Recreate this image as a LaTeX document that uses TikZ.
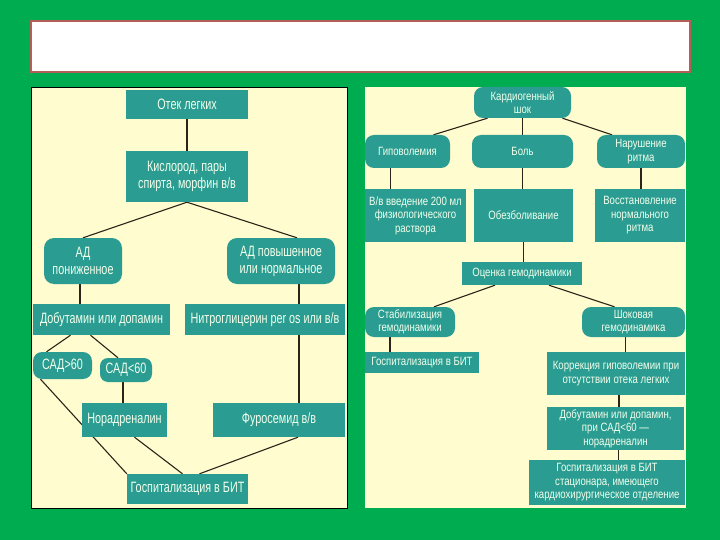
\documentclass[tikz,border=0pt]{standalone}
\usepackage{fontspec}
\setmainfont{Liberation Sans}[FakeStretch=0.8]
\newfontfamily\leftfont{Liberation Sans}[FakeStretch=0.72]
\usepackage{tikz}
\usetikzlibrary{backgrounds}

\definecolor{slidegreen}{RGB}{0,172,80}
\definecolor{panelcream}{RGB}{255,252,208}
\definecolor{boxteal}{RGB}{42,156,146}
\definecolor{boxtext}{RGB}{242,255,235}
\definecolor{titleedge}{RGB}{180,95,85}
\definecolor{linkdark}{RGB}{45,35,25}

\begin{document}
\begin{tikzpicture}[
                x=1pt, y=-1pt,
                sz/.style 2 args={minimum width=#1pt, minimum height=#2pt},
                box/.style={fill=boxteal, text=boxtext, inner sep=0pt, align=center,
                            font=\leftfont\fontsize{15}{17}\selectfont},
                rbox/.style={box, rounded corners=10pt},
                sbox/.style={box, font=\normalfont\fontsize{12}{13.5}\selectfont},
                srbox/.style={sbox, rounded corners=9pt},
                link/.style={draw=linkdark, line width=1.1pt}
                ]

                % фон слайда и панели
                \begin{scope}[on background layer]
                    \fill[slidegreen] (0,0) rectangle (720,540);
                    \draw[fill=white, draw=titleedge, line width=1.5pt] (31,21) rectangle (690,72);
                    \draw[fill=panelcream, draw=black, line width=0.8pt] (31,87) rectangle (347,508);
                    \fill[panelcream] (365,87) rectangle (686,508);
                \end{scope}

                % отек легких (левая схема)
                \node[box, sz={122}{29}] (otek) at (187,104.5) {Отек легких};
                \node[box, sz={122}{51}] (kisl) at (187,176.5) {Кислород, пары\\спирта, морфин в/в};
                \node[rbox, sz={78}{46}] (adlow) at (83,261) {АД\\пониженное};
                \node[rbox, sz={108}{46}] (adhigh) at (281,261) {АД повышенное\\или нормальное};
                \node[box, sz={137}{31}] (dobut) at (101.5,319.5) {Добутамин или допамин};
                \node[box, sz={160}{31}] (nitro) at (265,319.5) {Нитроглицерин per os или в/в};
                \node[rbox, sz={59}{27}, rounded corners=9pt] (sadhi) at (62.5,365.5) {САД>60};
                \node[rbox, sz={52}{24}, rounded corners=8pt] (sadlo) at (126,370) {САД<60};
                \node[box, sz={85}{34}] (norad) at (124.5,420) {Норадреналин};
                \node[box, sz={132}{34}] (furo) at (279,420) {Фуросемид в/в};
                \node[box, sz={121}{30}] (gospA) at (187.5,489) {Госпитализация в БИТ};

                % кардиогенный шок (правая схема)
                \node[srbox, sz={97}{31}] (kard) at (522.5,102.5) {Кардиогенный\\шок};
                \node[srbox, sz={85}{33}] (gipo) at (407.5,151.5) {Гиповолемия};
                \node[srbox, sz={101}{33}] (bol) at (522.5,151.5) {Боль};
                \node[srbox, sz={88}{33}] (ritm) at (641,151.5) {Нарушение\\ритма};
                \node[sbox, sz={101}{53}] (vved) at (415.5,215.5) {В/в введение 200 мл\\физиологического\\раствора};
                \node[sbox, sz={99}{53}] (obezb) at (523.5,215.5) {Обезболивание};
                \node[sbox, sz={90}{53}] (vosst) at (640,215.5) {Восстановление\\нормального\\ритма};
                \node[sbox, sz={120}{23}] (ocenka) at (522,273.5) {Оценка гемодинамики};
                \node[srbox, sz={90}{30}] (stab) at (410,322) {Стабилизация\\гемодинамики};
                \node[srbox, sz={103}{30}] (shok) at (633.5,322) {Шоковая\\гемодинамика};
                \node[sbox, sz={114}{21}] (gospB) at (422,362.5) {Госпитализация в БИТ};
                \node[sbox, sz={138}{43}] (korr) at (616,373.5) {Коррекция гиповолемии при\\отсутствии отека легких};
                \node[sbox, sz={137}{43}] (dobB) at (615.5,428.5) {Добутамин или допамин,\\при САД<60 —\\норадреналин};
                \node[sbox, sz={156}{45}] (gospC) at (607,482.5) {Госпитализация в БИТ\\стационара,  имеющего\\кардиохирургическое отделение};

                % связи
                \begin{scope}[on background layer]
                    \draw[link] (otek) -- (kisl);
                    \draw[link] (kisl.south) -- (adlow.north);
                    \draw[link] (kisl.south) -- ([xshift=16pt]adhigh.north);
                    \draw[link] ([xshift=-3pt]adlow.south) -- ([xshift=-3pt]adlow.south |- dobut.north);
                    \draw[link] ([xshift=18pt]adhigh.south) -- ([xshift=18pt]adhigh.south |- nitro.north);
                    \draw[link] ([xshift=34pt]nitro.south) -- ([xshift=34pt]nitro.south |- furo.north);
                    \draw[link] ([xshift=-31pt]dobut.south) -- ([xshift=-16pt]sadhi.north);
                    \draw[link] ([xshift=-11pt]dobut.south) -- ([xshift=-8pt]sadlo.north);
                    \draw[link] ([xshift=-3pt]sadlo.south) -- ([xshift=-3pt]sadlo.south |- norad.north);
                    \draw[link] ([xshift=-22pt]sadhi.south) -- (gospA.north west);
                    \draw[link] ([xshift=10pt]norad.south) -- ([xshift=-5pt]gospA.north);
                    \draw[link] ([xshift=19pt]furo.south) -- ([xshift=12pt]gospA.north);

                    \draw[link] ([xshift=-35pt]kard.south) -- ([xshift=26pt]gipo.north);
                    \draw[link] (kard) -- (bol);
                    \draw[link] ([xshift=40pt]kard.south) -- ([xshift=-29pt]ritm.north);
                    \draw[link] ([xshift=-17pt]gipo.south) -- ([xshift=-17pt]gipo.south |- vved.north);
                    \draw[link] (bol.south) -- (bol.south |- obezb.north);
                    \draw[link] (ritm.south) -- (ritm.south |- vosst.north);
                    \draw[link] (obezb.south) -- (obezb.south |- ocenka.north);
                    \draw[link] ([xshift=-27pt]ocenka.south) -- ([xshift=24pt]stab.north);
                    \draw[link] ([xshift=27pt]ocenka.south) -- ([xshift=-19pt]shok.north);
                    \draw[link] ([xshift=-20pt]stab.south) -- ([xshift=-20pt]stab.south |- gospB.north);
                    \draw[link] ([xshift=-8pt]shok.south) -- ([xshift=-8pt]shok.south |- korr.north);
                    \draw[link] ([xshift=3pt]korr.south) -- ([xshift=3pt]korr.south |- dobB.north);
                    \draw[link] ([xshift=3pt]dobB.south) -- ([xshift=3pt]dobB.south |- gospC.north);
                \end{scope}
            \end{tikzpicture}
\end{document}
